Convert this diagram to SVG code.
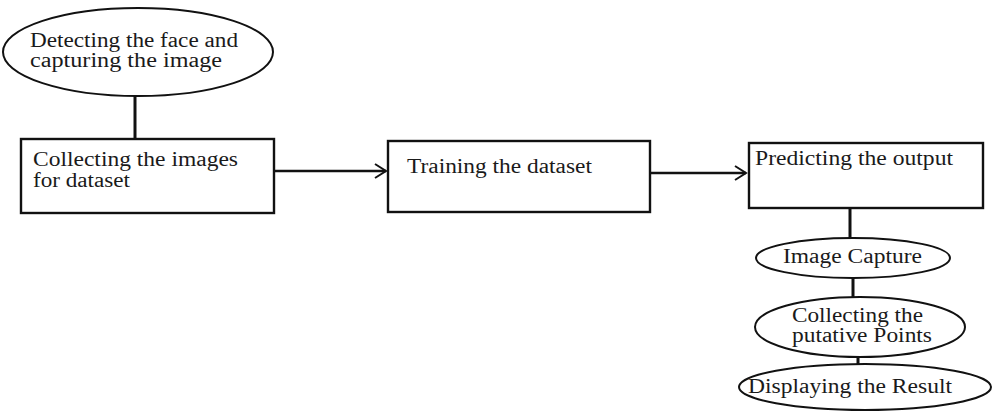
<svg xmlns="http://www.w3.org/2000/svg" width="993" height="412" viewBox="0 0 993 412">
<style>
.box{fill:#fff;stroke:#111;stroke-width:2.4}
.ell{fill:#fff;stroke:#111;stroke-width:2}
.t{font-family:"Liberation Serif","Times New Roman",serif;font-size:20px;fill:#1a1a1a}
.c{stroke:#111;stroke-width:3;fill:none}
.a{stroke:#111;stroke-width:2.5;fill:none}
</style>
<defs>
<marker id="arr" markerWidth="16" markerHeight="18" refX="12" refY="8" orient="auto" markerUnits="userSpaceOnUse">
<path d="M1,1 L12,8 L1,15" fill="none" stroke="#111" stroke-width="2"/>
</marker>
</defs>
<g id="connectors">
<line class="c" x1="135" y1="96" x2="135" y2="140"/>
<line class="a" x1="268" y1="171" x2="386" y2="171" marker-end="url(#arr)"/>
<line class="a" x1="647" y1="173" x2="746" y2="173" marker-end="url(#arr)"/>
<line class="c" x1="850" y1="208" x2="850" y2="238"/>
<line class="c" x1="853" y1="278" x2="853" y2="297"/>
<line class="c" x1="858" y1="352" x2="858" y2="368"/>
</g>
<g id="n1">
<ellipse class="ell" cx="138" cy="52" rx="135" ry="44"/>
<text class="t" x="30" y="47" textLength="208" lengthAdjust="spacingAndGlyphs">Detecting the face and</text>
<text class="t" x="30" y="67" textLength="192" lengthAdjust="spacingAndGlyphs">capturing the image</text>
</g>
<g id="n2">
<rect class="box" x="21" y="139" width="253" height="74"/>
<text class="t" x="33" y="166" textLength="205" lengthAdjust="spacingAndGlyphs">Collecting the images</text>
<text class="t" x="33" y="187" textLength="97" lengthAdjust="spacingAndGlyphs">for dataset</text>
</g>
<g id="n3">
<rect class="box" x="388" y="141" width="262" height="71"/>
<text class="t" x="407" y="173" textLength="185" lengthAdjust="spacingAndGlyphs">Training the dataset</text>
</g>
<g id="n4">
<rect class="box" x="749" y="143" width="234" height="65"/>
<text class="t" x="755" y="165" textLength="198" lengthAdjust="spacingAndGlyphs">Predicting the output</text>
</g>
<g id="n5">
<ellipse class="ell" cx="853" cy="258" rx="97" ry="20"/>
<text class="t" x="783" y="263" textLength="139" lengthAdjust="spacingAndGlyphs">Image Capture</text>
</g>
<g id="n6">
<ellipse class="ell" cx="860" cy="327" rx="105" ry="30"/>
<text class="t" x="792" y="322" textLength="131" lengthAdjust="spacingAndGlyphs">Collecting the</text>
<text class="t" x="792" y="342" textLength="140" lengthAdjust="spacingAndGlyphs">putative Points</text>
</g>
<g id="n7">
<ellipse class="ell" cx="865" cy="387" rx="126" ry="23"/>
<text class="t" x="748" y="393" textLength="204" lengthAdjust="spacingAndGlyphs">Displaying the Result</text>
</g>
</svg>
